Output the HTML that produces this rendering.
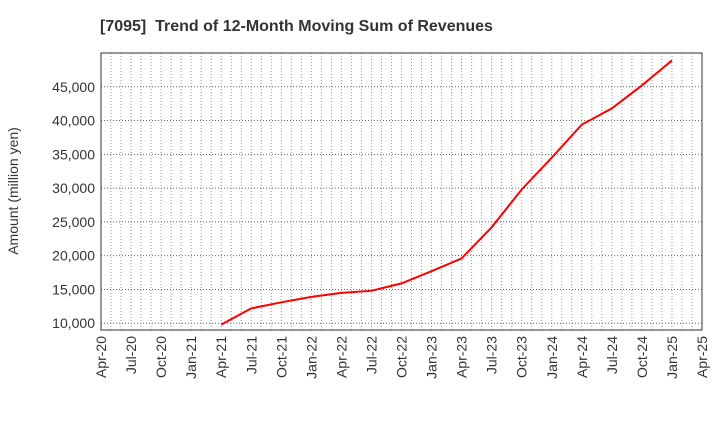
<!DOCTYPE html>
<html><head><meta charset="utf-8"><style>
body{margin:0;background:#fff;font-family:"Liberation Sans",sans-serif;}
</style></head><body>
<svg width="720" height="440" xmlns="http://www.w3.org/2000/svg">
<text x="100" y="31" font-size="16" font-weight="bold" fill="#333" xml:space="preserve" style="white-space:pre">[7095]  Trend of 12-Month Moving Sum of Revenues</text>
<text transform="translate(18,191) rotate(-90)" text-anchor="middle" font-size="14" fill="#333">Amount (million yen)</text>
<g id="grid"></g>
<g id="axes"></g>
<g id="series"></g>
<rect x="101" y="53" width="601" height="277" fill="none" stroke="#333" stroke-width="1"/>
</svg>
<script>
const categories=["Apr-21","Jul-21","Oct-21","Jan-22","Apr-22","Jul-22","Oct-22","Jan-23","Apr-23","Jul-23","Oct-23","Jan-24","Apr-24","Jul-24","Oct-24","Jan-25"];
const revenues=[9800,12200,13100,13900,14500,14800,15900,17700,19600,24200,29800,34500,39400,41800,45200,48900];
const xTickLabels=["Apr-20","Jul-20","Oct-20","Jan-21","Apr-21","Jul-21","Oct-21","Jan-22","Apr-22","Jul-22","Oct-22","Jan-23","Apr-23","Jul-23","Oct-23","Jan-24","Apr-24","Jul-24","Oct-24","Jan-25","Apr-25"];
const yTicks=[10000,15000,20000,25000,30000,35000,40000,45000];
const L=101,R=702,T=53,B=330,yMin=9000,yMax=50000;
const mons={Jan:0,Apr:3,Jul:6,Oct:9};
function monthIndex(lbl){const[m,y]=lbl.split("-");return (2000+ +y)*12+mons[m]-(2020*12+3);}
const x=mi=>L+mi*(R-L)/60;
const y=v=>B-(v-yMin)*(B-T)/(yMax-yMin);
const NS="http://www.w3.org/2000/svg";
function mk(tag,attrs,parent){const e=document.createElementNS(NS,tag);for(const k in attrs)e.setAttribute(k,attrs[k]);document.getElementById(parent).appendChild(e);return e;}
for(let m=1;m<60;m++){
 const e=mk("line",{x1:x(m),x2:x(m),y1:T,y2:B,stroke:"#999","stroke-dasharray":"1,2","stroke-width":1},"grid");
 
 
}
yTicks.forEach(v=>{
 const g=mk("line",{x1:L,x2:R,y1:y(v),y2:y(v),stroke:"#666","stroke-dasharray":"1,2","stroke-width":1},"grid");
 
 
 const t=mk("text",{x:L-6,y:y(v)+5,"text-anchor":"end","font-size":14,fill:"#333"},"axes");
 t.textContent=v.toLocaleString("en-US");
 
 
});
xTickLabels.forEach(l=>{
 const xx=x(monthIndex(l));
 const t=mk("text",{transform:`translate(${xx+5},${B+6}) rotate(-90)`,"text-anchor":"end","font-size":14,fill:"#333"},"axes");
 t.textContent=l;
 
 
});
const pts=categories.map((c,i)=>x(monthIndex(c))+","+y(revenues[i])).join(" ");
const pl=mk("polyline",{points:pts,fill:"none",stroke:"#f00","stroke-width":2},"series");


</script>
</body></html>
